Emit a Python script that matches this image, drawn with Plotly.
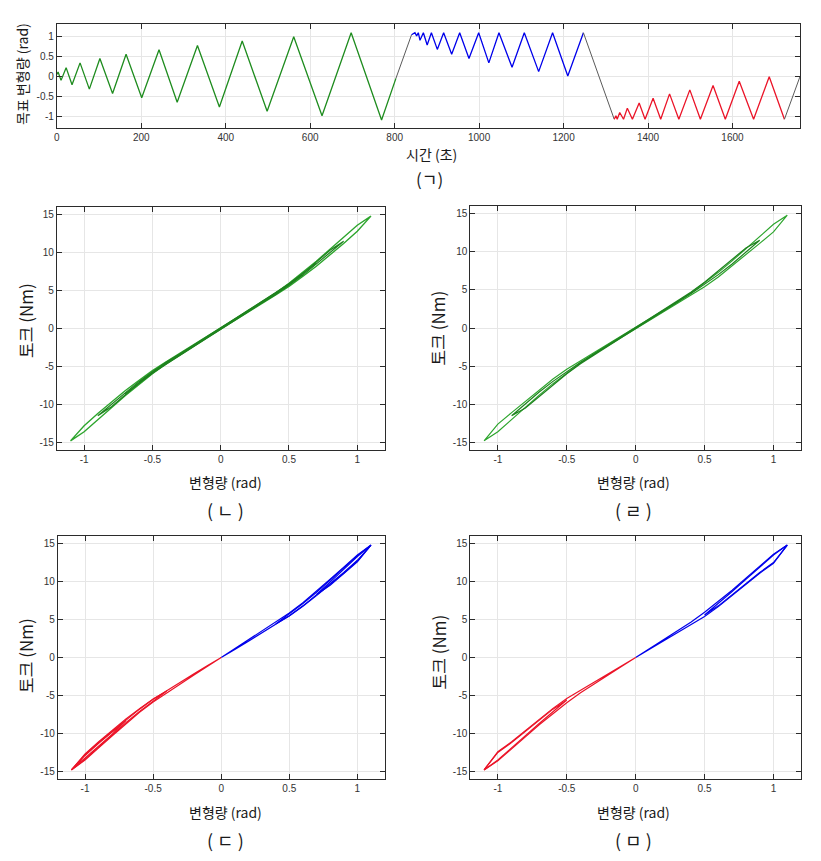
import plotly.graph_objects as go

# ---------------- Top chart (ㄱ): target deformation vs time ----------------
green_t = [0, 3, 10, 22, 36, 55, 77, 102, 132, 164, 201, 242, 285, 333, 385, 439, 498, 561, 628, 697, 769, 803]
green_y = [0.05, 0.11, -0.1, 0.22, -0.21, 0.34, -0.32, 0.45, -0.43, 0.56, -0.54, 0.67, -0.65, 0.78, -0.77, 0.89, -0.88, 1.0, -0.99, 1.1, -1.1, -0.05]
gray1_t = [803, 840]
gray1_y = [-0.05, 1.05]
blue_t = [840, 848, 852, 856, 860, 868, 877, 887, 901, 916, 935, 954, 976, 999, 1023, 1047, 1078, 1107, 1141, 1174, 1210, 1247]
blue_y = [1.05, 1.1, 1.02, 1.1, 0.91, 1.1, 0.79, 1.1, 0.68, 1.1, 0.56, 1.1, 0.45, 1.1, 0.34, 1.1, 0.23, 1.1, 0.12, 1.1, 0.01, 1.1]
gray2_t = [1247, 1320]
gray2_y = [1.1, -1.08]
red_t = [1320, 1324, 1327, 1333, 1342, 1351, 1363, 1379, 1393, 1412, 1430, 1451, 1473, 1499, 1524, 1554, 1583, 1616, 1650, 1687, 1723]
red_y = [-1.08, -0.99, -1.08, -0.91, -1.08, -0.80, -1.08, -0.67, -1.08, -0.55, -1.08, -0.44, -1.08, -0.34, -1.08, -0.23, -1.08, -0.12, -1.08, -0.01, -1.08]
gray3_t = [1723, 1760]
gray3_y = [-1.08, 0.0]

time_ticks = [0, 200, 400, 600, 800, 1000, 1200, 1400, 1600]
target_ticks = [-1, -0.5, 0, 0.5, 1]
target_labels = ["-1", "-0.5", "0", "0.5", "1"]

# ---------------- Hysteresis panels: deformation (rad) vs torque (Nm) ----------------
X11 = [-1.1, -1.0, -0.9, -0.8, -0.7, -0.6, -0.5, -0.4, -0.3, -0.2, -0.1, 0.0,
       0.1, 0.2, 0.3, 0.4, 0.5, 0.6, 0.7, 0.8, 0.9, 1.0, 1.1]
X09 = [-0.9, -0.8, -0.7, -0.6, -0.5, -0.4, -0.3, -0.2, -0.1, 0.0,
       0.1, 0.2, 0.3, 0.4, 0.5, 0.6, 0.7, 0.8, 0.9]
X07 = [-0.7, -0.6, -0.5, -0.4, -0.3, -0.2, -0.1, 0.0, 0.1, 0.2, 0.3, 0.4, 0.5, 0.6, 0.7]
XP0 = [0.0, 0.1, 0.2, 0.3, 0.4, 0.5, 0.6, 0.7, 0.8, 0.9, 1.0, 1.1]
XP4 = [0.4, 0.5, 0.6, 0.7, 0.8, 0.9, 1.0, 1.1]
XP5 = [0.5, 0.6, 0.7, 0.8, 0.9, 1.0, 1.1]
XP7 = [0.7, 0.8, 0.9, 1.0, 1.1]
XN0 = [-1.1, -1.0, -0.9, -0.8, -0.7, -0.6, -0.5, -0.4, -0.3, -0.2, -0.1, 0.0]
XN4 = [-1.1, -1.0, -0.9, -0.8, -0.7, -0.6, -0.5, -0.4]
XN5 = [-1.1, -1.0, -0.9, -0.8, -0.7, -0.6, -0.5]
XN7 = [-1.1, -1.0, -0.9, -0.8, -0.7]

# (ㄴ) measured, green
n_up_11 = [-14.8, -12.8, -11.2, -9.7, -8.2, -6.85, -5.55, -4.4, -3.3, -2.2, -1.1, 0.0,
           1.2, 2.35, 3.5, 4.65, 5.95, 7.35, 8.85, 10.45, 12.05, 13.6, 14.8]
n_dn_11 = [-14.8, -13.6, -12.05, -10.45, -8.85, -7.35, -5.95, -4.65, -3.5, -2.35, -1.2, 0.0,
           1.1, 2.2, 3.3, 4.4, 5.55, 6.85, 8.2, 9.7, 11.2, 12.8, 14.8]
n_up_09 = [-11.5, -10.0, -8.5, -7.0, -5.7, -4.45, -3.35, -2.2, -1.1, 0.0,
           1.15, 2.3, 3.45, 4.6, 5.85, 7.2, 8.7, 10.3, 11.5]
n_dn_09 = [-11.5, -10.3, -8.7, -7.2, -5.85, -4.6, -3.45, -2.3, -1.15, 0.0,
           1.1, 2.2, 3.35, 4.45, 5.7, 7.0, 8.5, 10.0, 11.5]
n_up_07 = [-8.6, -7.2, -5.8, -4.5, -3.4, -2.25, -1.1, 0.0, 1.15, 2.3, 3.45, 4.6, 5.9, 7.3, 8.6]
n_dn_07 = [-8.6, -7.3, -5.9, -4.6, -3.45, -2.3, -1.15, 0.0, 1.1, 2.25, 3.4, 4.5, 5.8, 7.2, 8.6]

# (ㄹ) green
r_up_11 = [-14.8, -12.6, -11.1, -9.6, -8.1, -6.7, -5.4, -4.3, -3.2, -2.15, -1.05, 0.05,
           1.15, 2.25, 3.4, 4.6, 5.9, 7.3, 8.8, 10.4, 12.0, 13.6, 14.8]
r_dn_11 = [-14.8, -13.6, -12.0, -10.4, -8.8, -7.3, -5.9, -4.6, -3.4, -2.25, -1.15, -0.05,
           1.05, 2.15, 3.2, 4.3, 5.4, 6.7, 8.1, 9.6, 11.1, 12.6, 14.8]
r_up_09 = [-11.5, -9.9, -8.4, -7.0, -5.7, -4.5, -3.35, -2.25, -1.1, 0.05,
           1.2, 2.35, 3.5, 4.7, 6.0, 7.5, 9.0, 10.5, 11.5]
r_dn_09 = [-11.5, -10.5, -9.0, -7.5, -6.0, -4.7, -3.5, -2.35, -1.2, -0.05,
           1.1, 2.25, 3.35, 4.5, 5.7, 7.0, 8.4, 9.9, 11.5]

# (ㄷ) measured, blue (positive) and red (negative)
d_bup_0 = [0.0, 1.15, 2.3, 3.45, 4.6, 5.85, 7.2, 8.7, 10.3, 11.9, 13.5, 14.8]
d_bdn_0 = [0.0, 1.05, 2.15, 3.25, 4.35, 5.5, 6.8, 8.2, 9.7, 11.2, 12.8, 14.8]
d_bup_4 = [4.4, 5.75, 7.1, 8.6, 10.2, 11.8, 13.4, 14.8]
d_bdn_4 = [4.4, 5.45, 6.75, 8.15, 9.6, 11.1, 12.7, 14.8]
d_bup_7 = [8.3, 9.9, 11.6, 13.3, 14.8]
d_bdn_7 = [8.3, 9.5, 11.0, 12.6, 14.8]
d_rup_0 = [-14.8, -12.8, -11.2, -9.7, -8.2, -6.8, -5.5, -4.35, -3.25, -2.15, -1.05, 0.0]
d_rdn_0 = [-14.8, -13.5, -11.9, -10.3, -8.7, -7.2, -5.85, -4.6, -3.45, -2.3, -1.15, 0.0]
d_rup_4 = [-14.8, -12.7, -11.1, -9.6, -8.1, -6.75, -5.45, -4.4]
d_rdn_4 = [-14.8, -13.4, -11.8, -10.2, -8.6, -7.1, -5.75, -4.4]
d_rup_7 = [-14.8, -12.9, -11.3, -9.8, -8.3]
d_rdn_7 = [-14.8, -13.3, -11.7, -10.1, -8.3]

# (ㅁ) blue (positive) and red (negative)
m_bup_0 = [0.0, 1.15, 2.3, 3.45, 4.65, 5.95, 7.35, 8.85, 10.45, 12.05, 13.6, 14.8]
m_bdn_0 = [0.0, 1.05, 2.15, 3.2, 4.3, 5.4, 6.7, 8.1, 9.6, 11.1, 12.4, 14.8]
m_bup_5 = [5.6, 7.1, 8.7, 10.3, 11.9, 13.5, 14.8]
m_bdn_5 = [5.6, 6.8, 8.2, 9.7, 11.2, 12.5, 14.8]
m_rup_0 = [-14.8, -12.4, -11.1, -9.6, -8.1, -6.7, -5.4, -4.3, -3.2, -2.15, -1.05, 0.0]
m_rdn_0 = [-14.8, -13.6, -12.05, -10.45, -8.85, -7.35, -5.95, -4.65, -3.45, -2.3, -1.15, 0.0]
m_rup_5 = [-14.8, -12.5, -11.2, -9.7, -8.2, -6.8, -5.6]
m_rdn_5 = [-14.8, -13.5, -11.9, -10.3, -8.7, -7.1, -5.6]

rad_ticks = [-1, -0.5, 0, 0.5, 1]
rad_labels = ["-1", "-0.5", "0", "0.5", "1"]
torque_ticks = [-15, -10, -5, 0, 5, 10, 15]
torque_labels = ["-15", "-10", "-5", "0", "5", "10", "15"]

# ---------------- styling ----------------
# The page body has an 8px default margin; the figure is sized so it fits the
# 821x861 window without scrollbars, and page coordinates are shifted by 8px.
PAGE_OFF = 8
W, H = 805, 845
GREEN_TOP = "rgb(30,140,30)"
GREEN = "rgb(45,165,45)"
GREEN_DARK = "rgb(30,130,30)"
BLUE = "rgb(0,0,235)"
RED = "rgb(235,20,40)"
GRAY = "rgb(90,90,90)"
AX = "#2b2b2b"
GRID = "#e6e6e6"
TICKFONT = dict(family="Liberation Sans, Arial, sans-serif", size=10, color="#333333")
KFONT = "Noto Sans CJK KR, sans-serif"


def px_x(a, b):
    return [(a - PAGE_OFF) / W, (b - PAGE_OFF) / W]


def px_y(top, bottom):
    return [1 - (bottom - PAGE_OFF) / H, 1 - (top - PAGE_OFF) / H]


def axis(domain, anchor, rng, tv, tt):
    return dict(domain=domain, anchor=anchor, range=rng, tickvals=tv, ticktext=tt,
                ticks="inside", ticklen=5, tickwidth=1, tickcolor=AX,
                showline=True, linecolor=AX, linewidth=1, mirror="allticks",
                showgrid=True, gridcolor=GRID, gridwidth=1, zeroline=False,
                tickfont=TICKFONT, fixedrange=True)


fig = go.Figure()


def line(x, y, color, xa, ya, width=1.3):
    fig.add_trace(go.Scatter(x=x, y=y, mode="lines", line=dict(color=color, width=width),
                             xaxis=xa, yaxis=ya, showlegend=False, hoverinfo="skip"))


def loop(x, up, dn, color, xa, ya, width=1.2):
    line(list(x) + list(x)[::-1], list(up) + list(dn)[::-1], color, xa, ya, width)


# top chart
line(green_t, green_y, GREEN_TOP, "x", "y")
line(gray1_t, gray1_y, GRAY, "x", "y", 1.0)
line(blue_t, blue_y, BLUE, "x", "y")
line(gray2_t, gray2_y, GRAY, "x", "y", 1.0)
line(red_t, red_y, RED, "x", "y")
line(gray3_t, gray3_y, GRAY, "x", "y", 1.0)

# (ㄴ)
loop(X11, n_up_11, n_dn_11, GREEN, "x2", "y2", 1.4)
loop(X09, n_up_09, n_dn_09, GREEN_DARK, "x2", "y2", 1.2)
loop(X07, n_up_07, n_dn_07, GREEN_DARK, "x2", "y2", 1.2)
# (ㄹ)
loop(X11, r_up_11, r_dn_11, GREEN, "x3", "y3")
loop(X09, r_up_09, r_dn_09, GREEN_DARK, "x3", "y3")
# (ㄷ)
loop(XP0, d_bup_0, d_bdn_0, BLUE, "x4", "y4")
loop(XP4, d_bup_4, d_bdn_4, BLUE, "x4", "y4")
loop(XP7, d_bup_7, d_bdn_7, BLUE, "x4", "y4")
loop(XN0, d_rup_0, d_rdn_0, RED, "x4", "y4")
loop(XN4, d_rup_4, d_rdn_4, RED, "x4", "y4")
loop(XN7, d_rup_7, d_rdn_7, RED, "x4", "y4")
# (ㅁ)
loop(XP0, m_bup_0, m_bdn_0, BLUE, "x5", "y5")
loop(XP5, m_bup_5, m_bdn_5, BLUE, "x5", "y5")
loop(XN0, m_rup_0, m_rdn_0, RED, "x5", "y5")
loop(XN5, m_rup_5, m_rdn_5, RED, "x5", "y5")

layout = dict(
    width=W, height=H, margin=dict(l=0, r=0, t=0, b=0),
    paper_bgcolor="white", plot_bgcolor="white", showlegend=False,
    xaxis=axis(px_x(54, 800), "y", [0, 1760], time_ticks, [str(v) for v in time_ticks]),
    yaxis=axis(px_y(24, 128), "x", [-1.3, 1.32], target_ticks, target_labels),
    xaxis2=axis(px_x(54, 383), "y2", [-1.2, 1.2], rad_ticks, rad_labels),
    yaxis2=axis(px_y(207, 450), "x2", [-16, 16], torque_ticks, torque_labels),
    xaxis3=axis(px_x(469, 801), "y3", [-1.2, 1.2], rad_ticks, rad_labels),
    yaxis3=axis(px_y(206, 450), "x3", [-16, 16], torque_ticks, torque_labels),
    xaxis4=axis(px_x(55, 383), "y4", [-1.2, 1.2], rad_ticks, rad_labels),
    yaxis4=axis(px_y(536, 779), "x4", [-16, 16], torque_ticks, torque_labels),
    xaxis5=axis(px_x(469, 801), "y5", [-1.2, 1.2], rad_ticks, rad_labels),
    yaxis5=axis(px_y(536, 779), "x5", [-16, 16], torque_ticks, torque_labels),
)
fig.update_layout(**layout)


def label(text, cx, cy, size, angle=0):
    fig.add_annotation(text=text, x=(cx - PAGE_OFF) / W, y=1 - (cy - PAGE_OFF) / H,
                       xref="paper", yref="paper",
                       showarrow=False, xanchor="center", yanchor="middle", textangle=angle,
                       font=dict(family=KFONT, size=size, color="#1a1a1a"))


# top chart texts
label("목표 변형량 (rad)", 19, 74, 14, -90)
label("시간 (초)", 430, 154, 14)
label("(ㄱ)", 428, 178, 17)
# panel texts
for cx, cy_lab, cy_cap, cap, ycx, ycy in [
    (223, 482, 510, "( ㄴ )", 22, 320),
    (633, 482, 510, "( ㄹ )", 437, 328),
    (223, 812, 840, "( ㄷ )", 22, 655),
    (633, 812, 840, "( ㅁ )", 437, 652),
]:
    label("변형량 (rad)", cx, cy_lab, 14)
    label(cap, cx, cy_cap, 18)
    label("토크 (Nm)", ycx, ycy, 17, -90)

fig.write_html("out.html")
